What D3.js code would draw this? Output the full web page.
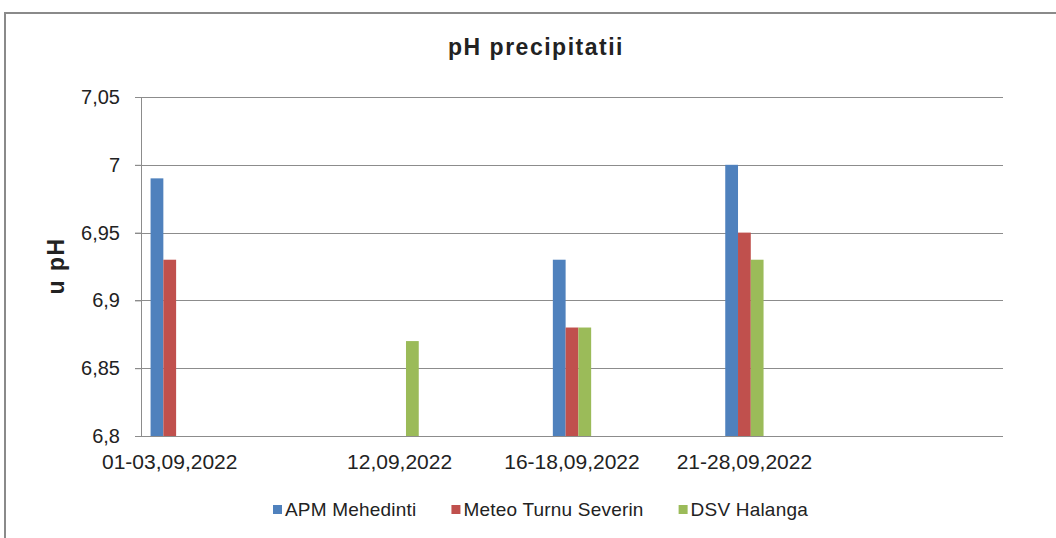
<!DOCTYPE html>
<html>
<head>
<meta charset="utf-8">
<script src="https://cdn.jsdelivr.net/npm/d3@7"></script>
<style>
  body { margin: 0; background: #fff; }
  text { font-family: "Liberation Sans", Arial, sans-serif; fill: #222; }
</style>
</head>
<body>
<div id="chart"></div>
<script>
// categories (blank slots are empty rows of the sheet)
var categories = ["01-03,09,2022", "", "", "", "12,09,2022", "", "", "16-18,09,2022", "", "", "21-28,09,2022", "", "", "", ""];
var series = ["APM Mehedinti", "Meteo Turnu Severin", "DSV Halanga"];
var apm = [6.99, null, null, null, null, null, null, 6.93, null, null, 7.00, null, null, null, null];
var meteo = [6.93, null, null, null, null, null, null, 6.88, null, null, 6.95, null, null, null, null];
var dsv = [null, null, null, null, 6.87, null, null, 6.88, null, null, 6.93, null, null, null, null];
var yTicks = [6.8, 6.85, 6.9, 6.95, 7, 7.05];
var yTickLabels = ["6,8", "6,85", "6,9", "6,95", "7", "7,05"];
var colors = ["#4F81BD", "#C0504D", "#9BBB59"];

var W = 1056, H = 538;
var margin = { top: 97, right: 53, bottom: 102, left: 141 },
    width = W - margin.left - margin.right,
    height = H - margin.top - margin.bottom;

var svg = d3.select("#chart").append("svg")
    .attr("width", W)
    .attr("height", H);

// outer chart border
svg.append("rect")
    .attr("x", 5).attr("y", 13)
    .attr("width", W + 20).attr("height", H + 20)
    .attr("fill", "none")
    .attr("stroke", "#8a8a8a")
    .attr("stroke-width", 2);

// title
svg.append("text")
    .attr("x", 536).attr("y", 55)
    .attr("text-anchor", "middle")
    .style("font-size", "23px")
    .style("font-weight", "bold")
    .style("letter-spacing", "1.5px")
    .text("pH precipitatii");

var g = svg.append("g")
    .attr("transform", "translate(" + margin.left + "," + margin.top + ")");

var x = d3.scaleBand().domain(d3.range(categories.length)).range([0, width]);
var x1 = d3.scaleBand().domain(series).range([0, x.bandwidth()]).paddingOuter(0.75);
var y = d3.scaleLinear().domain([6.8, 7.05]).range([height, 0]);

// gridlines
g.append("g").selectAll("line")
    .data(yTicks)
    .enter().append("line")
    .attr("x1", -6).attr("x2", width)
    .attr("y1", function(d) { return Math.round(y(d)) + 0.5; })
    .attr("y2", function(d) { return Math.round(y(d)) + 0.5; })
    .attr("stroke", "#8c8c8c")
    .attr("stroke-width", 1);

// y axis
var yAxis = g.append("g")
    .call(d3.axisLeft(y)
        .tickValues(yTicks)
        .tickFormat(function(d, i) { return yTickLabels[i]; })
        .tickSize(6)
        .tickPadding(15));
yAxis.selectAll("text").style("font-size", "20px").attr("fill", "#222");
yAxis.selectAll("line").attr("stroke", "#8c8c8c");
yAxis.select(".domain").attr("stroke", "#8c8c8c").attr("d", "M0.5,0V" + height);

// bars
var data = [apm, meteo, dsv];
data.forEach(function(vals, si) {
    g.append("g").selectAll("rect")
        .data(vals.map(function(v, i) { return { i: i, v: v }; }).filter(function(d) { return d.v != null; }))
        .enter().append("rect")
        .attr("x", function(d) { return x(d.i) + x1(series[si]); })
        .attr("width", x1.bandwidth())
        .attr("y", function(d) { return y(d.v); })
        .attr("height", function(d) { return height - y(d.v); })
        .attr("fill", colors[si]);
});

// x axis
var xAxis = g.append("g")
    .attr("transform", "translate(0," + height + ")")
    .call(d3.axisBottom(x)
        .tickFormat(function(i) { return categories[i]; })
        .tickSize(0)
        .tickPadding(18));
xAxis.select(".domain").remove();
xAxis.selectAll("text").style("font-size", "21px").attr("fill", "#222");

// y axis title
svg.append("text")
    .attr("transform", "translate(64,266) rotate(-90)")
    .attr("text-anchor", "middle")
    .style("font-size", "23px")
    .style("font-weight", "bold")
    .style("letter-spacing", "1.5px")
    .text("u pH");

// legend
var lx = 273;
series.forEach(function(s, i) {
    svg.append("rect")
        .attr("x", lx).attr("y", 505)
        .attr("width", 9).attr("height", 9)
        .attr("fill", colors[i]);
    var t = svg.append("text")
        .attr("x", lx + 12).attr("y", 516)
        .style("font-size", "19px")
        .style("letter-spacing", "0.2px")
        .text(s);
    lx += 12 + t.node().getComputedTextLength() + 35;
});
</script>
</body>
</html>
